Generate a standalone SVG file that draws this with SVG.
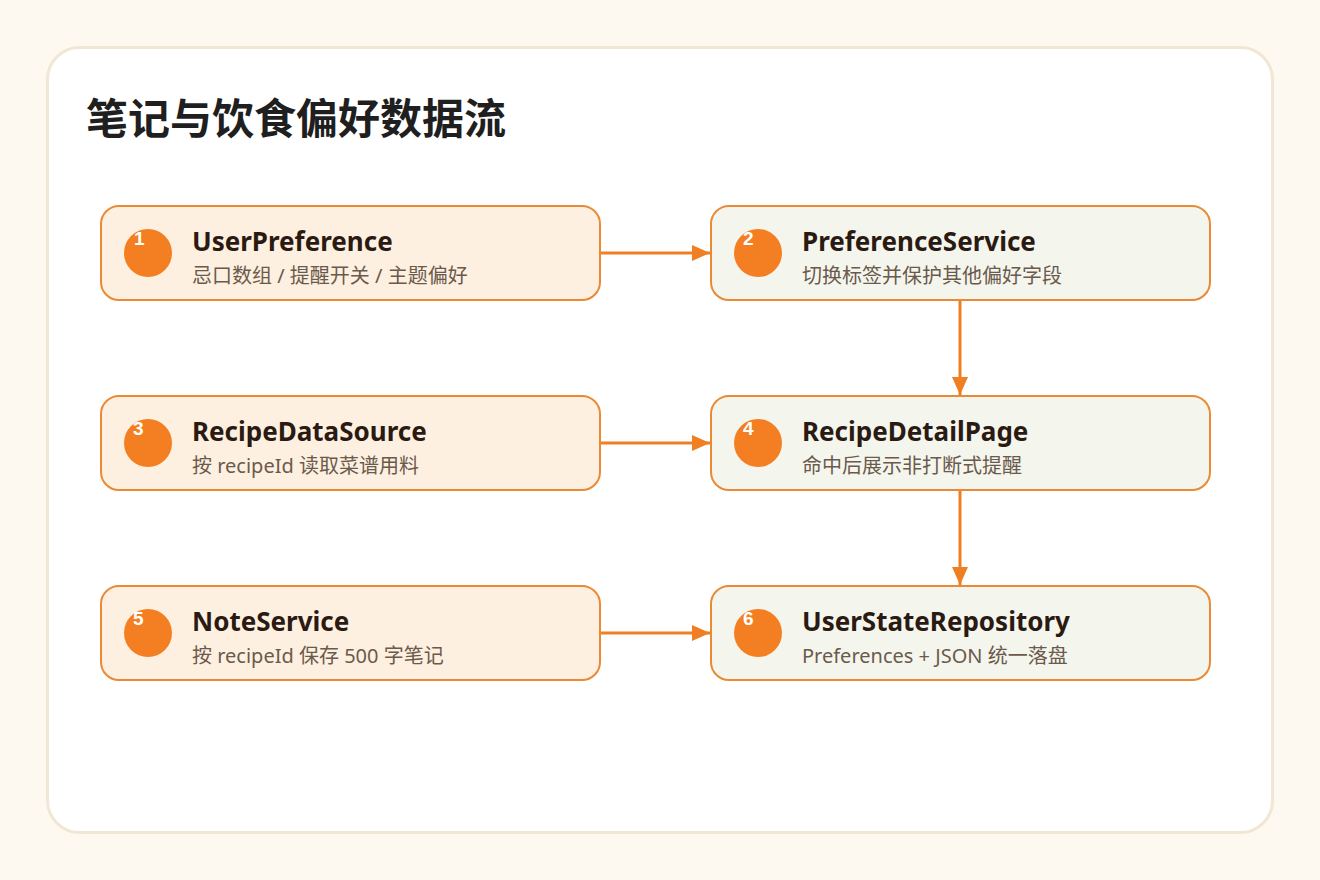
<svg xmlns="http://www.w3.org/2000/svg" width="1320" height="880" viewBox="0 0 1320 880">
<defs>
<style>
.card-l{fill:#fdf0e0;stroke:#ea8a34;stroke-width:2}
.card-r{fill:#f4f6ee;stroke:#ea8a34;stroke-width:2}
.dot{fill:#f47f22}
.num{font-family:"Liberation Sans","DejaVu Sans",sans-serif;font-weight:bold;font-size:19px;fill:#ffffff}
.ttl{font-family:"Noto Sans","Noto Sans CJK SC",sans-serif;font-weight:bold;font-size:26px;fill:#2a1a12}
.sub{font-family:"Noto Sans","Noto Sans CJK SC",sans-serif;font-size:20px;fill:#6b5a4c}
.conn{stroke:#ef7f22;stroke-width:3;fill:none}
</style>
<marker id="ah" markerWidth="18" markerHeight="16" refX="18" refY="8" orient="auto" markerUnits="userSpaceOnUse">
<path d="M0,0 L18,8 L0,16 Z" fill="#ef7f22"/>
</marker>
</defs>
<rect x="0" y="0" width="1320" height="880" fill="#fdf9f1"/>
<rect x="47.5" y="47.5" width="1225" height="785" rx="32" fill="#ffffff" stroke="#f2e6d4" stroke-width="3"/>
<text x="86" y="134" font-family="Noto Sans CJK SC, sans-serif" font-weight="bold" font-size="42" fill="#1f1f1f">笔记与饮食偏好数据流</text>
<g id="connectors">
<line class="conn" x1="600" y1="253" x2="710" y2="253" marker-end="url(#ah)"/>
<line class="conn" x1="960" y1="300" x2="960" y2="395" marker-end="url(#ah)"/>
<line class="conn" x1="600" y1="443" x2="710" y2="443" marker-end="url(#ah)"/>
<line class="conn" x1="960" y1="490" x2="960" y2="585" marker-end="url(#ah)"/>
<line class="conn" x1="600" y1="633" x2="710" y2="633" marker-end="url(#ah)"/>
</g>
<g id="n1">
<rect class="card-l" x="101" y="206" width="499" height="94" rx="18"/>
<circle class="dot" cx="148" cy="253" r="24"/>
<text class="num" x="134" y="245">1</text>
<text class="ttl" x="192" y="251">UserPreference</text>
<text class="sub" x="192" y="283">忌口数组 / 提醒开关 / 主题偏好</text>
</g>
<g id="n2">
<rect class="card-r" x="711" y="206" width="499" height="94" rx="18"/>
<circle class="dot" cx="758" cy="253" r="24"/>
<text class="num" x="743" y="245">2</text>
<text class="ttl" x="802" y="251">PreferenceService</text>
<text class="sub" x="802" y="283">切换标签并保护其他偏好字段</text>
</g>
<g id="n3">
<rect class="card-l" x="101" y="396" width="499" height="94" rx="18"/>
<circle class="dot" cx="148" cy="443" r="24"/>
<text class="num" x="133" y="435">3</text>
<text class="ttl" x="192" y="441">RecipeDataSource</text>
<text class="sub" x="192" y="473">按 recipeId 读取菜谱用料</text>
</g>
<g id="n4">
<rect class="card-r" x="711" y="396" width="499" height="94" rx="18"/>
<circle class="dot" cx="758" cy="443" r="24"/>
<text class="num" x="743" y="435">4</text>
<text class="ttl" x="802" y="441">RecipeDetailPage</text>
<text class="sub" x="802" y="473">命中后展示非打断式提醒</text>
</g>
<g id="n5">
<rect class="card-l" x="101" y="586" width="499" height="94" rx="18"/>
<circle class="dot" cx="148" cy="633" r="24"/>
<text class="num" x="133" y="625">5</text>
<text class="ttl" x="192" y="631">NoteService</text>
<text class="sub" x="192" y="663">按 recipeId 保存 500 字笔记</text>
</g>
<g id="n6">
<rect class="card-r" x="711" y="586" width="499" height="94" rx="18"/>
<circle class="dot" cx="758" cy="633" r="24"/>
<text class="num" x="743" y="625">6</text>
<text class="ttl" x="802" y="631">UserStateRepository</text>
<text class="sub" x="802" y="663">Preferences + JSON 统一落盘</text>
</g>
</svg>
